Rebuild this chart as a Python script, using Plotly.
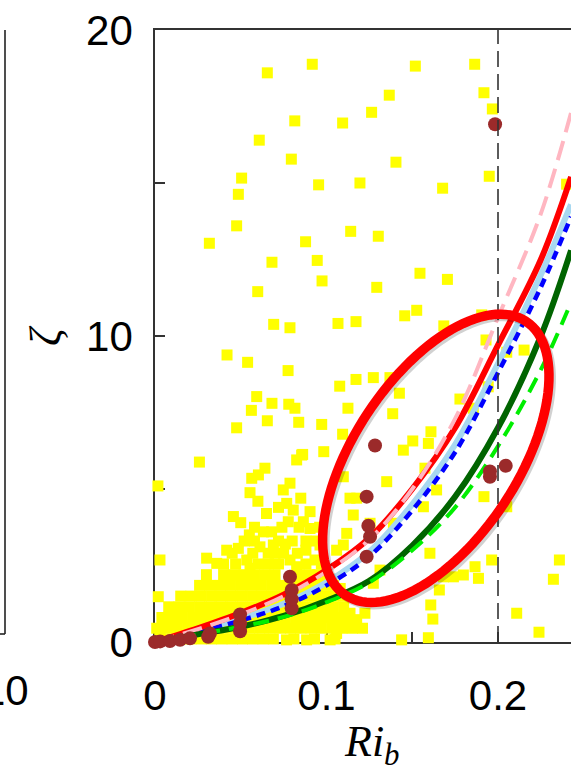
import numpy as np
import plotly.graph_objects as go

# ---------------- data ----------------
# scattered yellow observations (Ri_b, zeta)
yellow_sparse_ri = [
    0.0655, 0.0917, 0.0815, 0.1094, 0.0608, 0.0795, 0.0505, 0.0486, 0.0954, 0.1195, 0.0476, 0.1141, 0.0317, 0.0878,
    0.1518, 0.1864, 0.1366, 0.1918, 0.1263, 0.1967, 0.1405, 0.1677, 0.1949, 0.1302, 0.2400,
    0.0682, 0.0946, 0.0974, 0.0599, 0.0692, 0.0787, 0.1067, 0.1172, 0.0420, 0.0540, 0.0776, 0.1077, 0.1172, 0.0593,
    0.0682, 0.0562, 0.0780, 0.0816, 0.1125, 0.0655, 0.0838, 0.0972, 0.0476, 0.1094, 0.0861, 0.0984,
    0.1545, 0.1705, 0.1293, 0.1526, 0.1456, 0.1684, 0.1905, 0.1930, 0.2152, 0.2051, 0.1273, 0.1370, 0.1425, 0.1386,
    0.1778, 0.1856, 0.1943, 0.1609, 0.1503, 0.1594, 0.1448,
    0.0259, 0.0017, 0.0554, 0.0603, 0.0641, 0.0564, 0.0826, 0.0855, 0.0748, 0.0787, 0.0768, 0.0806, 0.0904, 0.0777,
    0.0865, 0.0457, 0.0632, 0.0680, 0.0612, 0.0690, 0.0418, 0.0486, 0.0029, 0.0301, 0.0360, 0.0535, 0.0554, 0.0787,
    0.0826, 0.0933, 0.1098, 0.1118, 0.1156, 0.1137, 0.1176, 0.0962, 0.1059, 0.0904,
    0.1351, 0.1918, 0.2051, 0.2358, 0.2323, 0.1963, 0.1866, 0.1886, 0.1798, 0.1740, 0.1682, 0.1603, 0.1658, 0.1608,
    0.1620, 0.2109, 0.2239, 0.1438, 0.1594, 0.1565, 0.1642, 0.1254, 0.1390, 0.1224, 0.1273, 0.1312, 0.1137, 0.1176,
    0.1059, 0.1021, 0.0884, 0.0767, 0.1574, 0.1098, 0.0019, 0.0029,
    0.0550, 0.0500, 0.0650, 0.0720, 0.0850, 0.0600, 0.0760, 0.0880, 0.0700, 0.0950, 0.1030, 0.1080,
]
yellow_sparse_zeta = [
    18.60, 18.88, 17.03, 16.96, 16.40, 15.78, 15.16, 14.63, 14.94, 15.00, 13.60, 13.42, 13.03, 13.08,
    18.82, 18.88, 17.87, 17.95, 17.31, 17.42, 15.68, 14.83, 15.22, 13.26, 14.96,
    12.41, 12.47, 11.80, 11.45, 10.38, 10.27, 10.41, 10.47, 9.38, 9.14, 8.87, 8.36, 8.58, 8.02,
    7.80, 7.57, 7.77, 7.64, 7.64, 7.23, 7.18, 7.11, 7.00, 6.79, 6.13, 6.22,
    12.05, 11.85, 11.59, 10.84, 10.66, 10.33, 10.69, 9.87, 9.54, 9.47, 8.64, 8.64, 8.13, 7.46,
    7.94, 7.64, 8.34, 6.87, 6.57, 6.49, 6.27,
    5.88, 5.10, 4.88, 5.46, 5.68, 5.35, 5.95, 6.11, 4.97, 5.19, 4.53, 4.31, 4.26, 3.93,
    3.93, 4.10, 3.60, 3.60, 3.11, 3.17, 3.00, 3.06, 2.68, 2.74, 2.57, 2.68, 2.41, 2.68,
    2.46, 2.68, 3.17, 3.55, 4.15, 4.70, 4.70, 3.17, 3.00, 3.71,
    5.24, 4.75, 4.42, 2.68, 2.05, 2.68, 2.46, 2.08, 2.19, 2.13, 2.13, 2.90, 1.70, 1.21,
    0.75, 0.94, 0.32, 0.07, 0.14, 4.42, 4.97, 3.88, 3.88, 0.94, 1.92, 2.35, 0.94, 0.73,
    0.28, 0.07, 0.07, 0.07, 5.68, 5.40, 1.48, 0.17,
    3.50, 3.90, 4.20, 4.40, 4.70, 4.60, 3.20, 3.00, 2.90, 2.20, 2.05, 1.75,
]
# dense cloud near the origin, read row by row (zeta level, Ri values)
dense_row_zeta = [0.10, 0.45, 0.80, 1.15, 1.50, 1.85, 2.20, 2.55, 2.90, 3.30, 3.75]
dense_row_ri = [
    [0.003, 0.009, 0.015, 0.021, 0.027, 0.033, 0.039, 0.045, 0.051, 0.057, 0.063, 0.069, 0.081, 0.093, 0.105],
    [0.001, 0.007, 0.013, 0.019, 0.025, 0.031, 0.037, 0.043, 0.049, 0.055, 0.061, 0.067, 0.073, 0.079, 0.085,
     0.091, 0.097, 0.103, 0.109, 0.115, 0.121],
    [0.004, 0.010, 0.016, 0.022, 0.028, 0.034, 0.040, 0.046, 0.052, 0.058, 0.064, 0.070, 0.076, 0.082, 0.088,
     0.094, 0.100, 0.106, 0.112],
    [0.008, 0.014, 0.020, 0.026, 0.032, 0.038, 0.044, 0.050, 0.056, 0.062, 0.068, 0.074, 0.080, 0.086, 0.092,
     0.098, 0.104, 0.110],
    [0.015, 0.021, 0.027, 0.033, 0.039, 0.045, 0.051, 0.057, 0.063, 0.069, 0.075, 0.081, 0.087, 0.093, 0.099,
     0.105, 0.111],
    [0.026, 0.032, 0.038, 0.044, 0.050, 0.056, 0.062, 0.068, 0.074, 0.080, 0.086, 0.092, 0.098, 0.104],
    [0.030, 0.040, 0.046, 0.052, 0.058, 0.064, 0.070, 0.084, 0.090, 0.100],
    [0.040, 0.047, 0.060, 0.066, 0.072, 0.088, 0.097],
    [0.045, 0.057, 0.066, 0.075, 0.083],
    [0.052, 0.058, 0.072, 0.080, 0.088, 0.094],
    [0.058, 0.074, 0.084, 0.096],
]

# brown (highlighted) observations
brown_ri = [0.0, 0.003, 0.0087, 0.0146, 0.0204, 0.031, 0.032, 0.0496, 0.0496, 0.0496,
            0.0797, 0.0797, 0.0797, 0.0787, 0.1234, 0.1254, 0.1244, 0.1234, 0.1283,
            0.1953, 0.1953, 0.2045, 0.1983]
brown_zeta = [0.0, 0.02, 0.03, 0.07, 0.12, 0.17, 0.28, 0.35, 0.62, 0.90,
              1.10, 1.40, 1.70, 2.13, 2.79, 3.44, 3.80, 4.75, 6.42,
              5.40, 5.57, 5.76, 16.92]

# fitted curves
curve_ri = [0, 0.025, 0.05, 0.075, 0.1, 0.125, 0.15, 0.175, 0.2, 0.225, 0.2426]
red_zeta = [0, 0.45, 0.95, 1.55, 2.35, 3.40, 5.00, 7.00, 9.7, 12.5, 15.2]
pink_zeta = [0, 0.42, 0.90, 1.50, 2.30, 3.35, 5.00, 7.30, 10.6, 14.0, 17.3]
lightblue_zeta = [0, 0.36, 0.76, 1.25, 1.95, 2.95, 4.50, 6.45, 9.1, 12.0, 14.3]
blue_zeta = [0, 0.33, 0.70, 1.17, 1.85, 2.80, 4.30, 6.20, 8.8, 11.6, 13.9]
darkgreen_zeta = [0, 0.25, 0.50, 0.85, 1.35, 2.00, 3.15, 4.75, 7.0, 10.0, 12.8]
green_zeta = [0, 0.25, 0.50, 0.82, 1.30, 1.95, 3.00, 4.40, 6.4, 8.9, 11.1]

x_tickvals = [0, 0.05, 0.1, 0.15, 0.2]
x_ticktext = ["0", "", "0.1", "", "0.2"]
y_tickvals = [0, 5, 10, 15, 20]
y_ticktext = ["0", "", "10", "", "20"]
ri_critical = 0.2

# ---------------- build ----------------
yellow_ri = list(yellow_sparse_ri)
yellow_zeta = list(yellow_sparse_zeta)
for z, row in zip(dense_row_zeta, dense_row_ri):
    yellow_ri += row
    yellow_zeta += [z] * len(row)

W, H = 571, 775
L, T, B = 155, 30, 133
PW = W - L
PH = H - T - B
X_MAX = PW / 1715.0  # pixels per unit of Ri ~1715


def px(xp):
    return (xp - L) / PW


def py(yp):
    return (H - B - yp) / PH


fig = go.Figure()
fig.add_trace(go.Scatter(x=yellow_ri, y=yellow_zeta, mode="markers",
                         marker=dict(symbol="square", size=11, color="#ffff00", line=dict(width=0)),
                         cliponaxis=False, showlegend=False))


def add_curve(ys, color, width, dash=None):
    fig.add_trace(go.Scatter(x=curve_ri, y=ys, mode="lines",
                             line=dict(color=color, width=width, dash=dash, shape="spline", smoothing=1.0),
                             showlegend=False))


add_curve(lightblue_zeta, "#a8d8f0", 6)
add_curve(blue_zeta, "#0000ff", 4.5, "9px,6px")
add_curve(red_zeta, "#ff0000", 6)
add_curve(pink_zeta, "#ffb6c1", 4, "20px,9px")
add_curve(darkgreen_zeta, "#006400", 6)
add_curve(green_zeta, "#00ee00", 4, "16px,9px")

fig.add_trace(go.Scatter(x=brown_ri, y=brown_zeta, mode="markers",
                         marker=dict(symbol="circle", size=14, color="#9b2a2a", line=dict(width=0)),
                         cliponaxis=False, showlegend=False))

shapes = []
# vertical dashed line at critical Ri
shapes.append(dict(type="line", xref="x", yref="paper", x0=ri_critical, x1=ri_critical, y0=0, y1=1,
                   line=dict(color="#333333", width=1.6, dash="16px,7px"), layer="above"))

# red ellipse (annotation) in pixel space -> paper
cx, cy, a, b, phi = 435.8, 458.3, 164.0, 81.8, np.deg2rad(56.6)
t = np.linspace(0, 2 * np.pi, 121)


def ellipse_path(dx=0.0, dy=0.0):
    ex = cx + dx + a * np.cos(t) * np.cos(phi) - b * np.sin(t) * np.sin(phi)
    ey = cy + dy - (a * np.cos(t) * np.sin(phi) + b * np.sin(t) * np.cos(phi))
    pts = [f"{px(u):.5f},{py(v):.5f}" for u, v in zip(ex, ey)]
    return "M" + " L".join(pts) + " Z"


shapes.append(dict(type="path", xref="paper", yref="paper", path=ellipse_path(2.5, 2.5),
                   line=dict(color="rgba(0,0,0,0.18)", width=9), layer="above"))
shapes.append(dict(type="path", xref="paper", yref="paper", path=ellipse_path(),
                   line=dict(color="#ff0000", width=9.5), layer="above"))

# fragment of neighbouring panel at the left edge
shapes.append(dict(type="line", xref="paper", yref="paper", x0=px(5), x1=px(5), y0=py(30), y1=py(634),
                   line=dict(color="#222222", width=1.6)))
shapes.append(dict(type="line", xref="paper", yref="paper", x0=px(-2), x1=px(5), y0=py(634), y1=py(634),
                   line=dict(color="#222222", width=1.6)))

annotations = [
    dict(xref="paper", yref="paper", x=px(31), y=py(690), xanchor="right", yanchor="middle",
         text="10", showarrow=False, font=dict(family="Liberation Sans, Arial", size=42, color="black")),
    dict(xref="paper", yref="paper", x=px(372), y=py(744), xanchor="center", yanchor="middle",
         text="<i>Ri</i><sub><i>b</i></sub>", showarrow=False,
         font=dict(family="Liberation Serif, Times New Roman", size=44, color="black")),
    dict(xref="paper", yref="paper", x=px(45), y=py(336), xanchor="center", yanchor="middle",
         text="<i>ζ</i>", textangle=-90, showarrow=False,
         font=dict(family="Liberation Serif, Times New Roman", size=44, color="black")),
]

axis_font = dict(family="Liberation Sans, Arial", size=42, color="black")
fig.update_layout(
    width=W, height=H, margin=dict(l=L, r=0, t=T, b=B, pad=0),
    paper_bgcolor="white", plot_bgcolor="white",
    shapes=shapes, annotations=annotations, showlegend=False,
    xaxis=dict(range=[0, X_MAX], tickvals=x_tickvals, ticktext=x_ticktext, ticks="inside", ticklen=10,
               tickwidth=1.5, tickcolor="#333333", showline=True, linecolor="#333333", linewidth=1.6,
               mirror=True, showgrid=False, zeroline=False, tickfont=axis_font, ticklabelstandoff=16,
               layer="below traces"),
    yaxis=dict(range=[0, 20], tickvals=y_tickvals, ticktext=y_ticktext, ticks="inside", ticklen=10,
               tickwidth=1.5, tickcolor="#333333", showline=True, linecolor="#333333", linewidth=1.6,
               mirror=False, showgrid=False, zeroline=False, tickfont=axis_font, ticklabelstandoff=12,
               layer="below traces"),
)

fig.write_html("out.html")
